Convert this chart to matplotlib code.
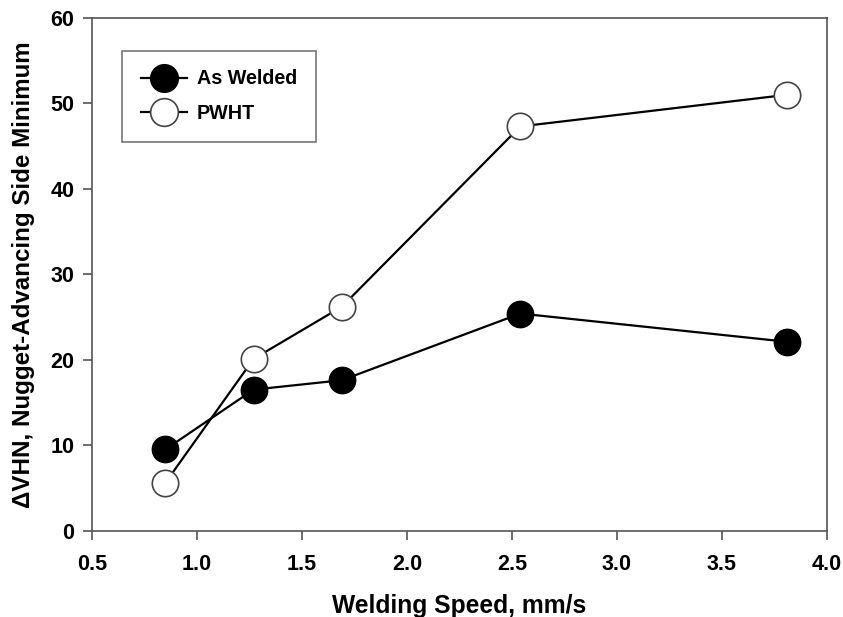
import matplotlib
matplotlib.use('Agg')
import matplotlib.pyplot as plt

plt.rcParams['font.family'] = ['Liberation Sans', 'DejaVu Sans']
plt.rcParams['font.weight'] = 'bold'

# Datos
velocidad = [0.85, 1.27, 1.69, 2.54, 3.81]
as_welded = [9.5, 16.5, 17.6, 25.4, 22.1]
pwht = [5.6, 20.1, 26.2, 47.3, 51.0]

fig = plt.figure(figsize=(8.43, 6.17), dpi=100)
ax = fig.add_axes([0.109, 0.140, 0.872, 0.831])

ax.plot(velocidad, as_welded, marker='o', color='black', markerfacecolor='black',
        markeredgecolor='black', markersize=19, linewidth=1.6, label='As Welded', zorder=3)
ax.plot(velocidad, pwht, marker='o', color='black', markerfacecolor='white',
        markeredgecolor='#444444', markeredgewidth=1.2, markersize=19, linewidth=1.6,
        label='PWHT', zorder=3)

ax.set_xlim(0.5, 4.0)
ax.set_ylim(0, 60)
ax.set_xticks([0.5, 1.0, 1.5, 2.0, 2.5, 3.0, 3.5, 4.0])
ax.set_xticklabels(['0.5', '1.0', '1.5', '2.0', '2.5', '3.0', '3.5', '4.0'])
ax.set_yticks([0, 10, 20, 30, 40, 50, 60])

for s in ax.spines.values():
    s.set_color('#555555')
    s.set_linewidth(1.2)
ax.tick_params(direction='out', length=6.5, width=1.2, color='#555555',
               labelsize=15.5)
ax.tick_params(axis='x', pad=10)
ax.tick_params(axis='y', pad=6)
for t in ax.get_xticklabels() + ax.get_yticklabels():
    t.set_fontweight('bold')

ax.set_xlabel('Welding Speed, mm/s', fontsize=17.7, fontweight='bold', labelpad=14)
ax.set_ylabel('\u0394VHN, Nugget-Advancing Side Minimum', fontsize=17.4,
              fontweight='bold', labelpad=11)

leg = ax.legend(loc='upper left', bbox_to_anchor=(0.041, 0.936), borderaxespad=0,
                fontsize=14.2, frameon=True, fancybox=False, edgecolor='#555555',
                borderpad=0.95, handlelength=2.35, labelspacing=0.8, handletextpad=0.5,
                markerscale=1.05)
leg.get_frame().set_linewidth(1.2)
for t in leg.get_texts():
    t.set_fontweight('bold')

plt.savefig('out.png', dpi=100)
